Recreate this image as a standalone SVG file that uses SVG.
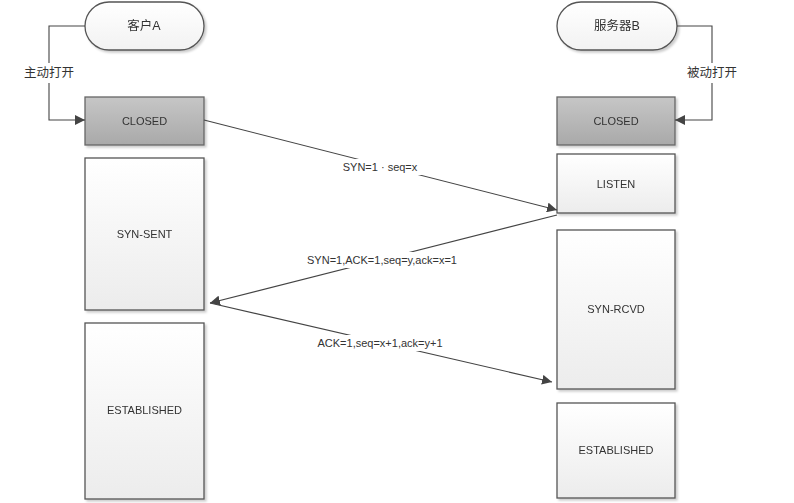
<svg xmlns="http://www.w3.org/2000/svg" width="794" height="503" viewBox="0 0 794 503">
<style>
text{font-family:"Liberation Sans","Noto Sans CJK SC",sans-serif;font-size:11px;fill:#333;text-anchor:middle;dominant-baseline:central}
text.cn{font-size:12.5px}
.box{fill:url(#gw);stroke:#555;stroke-width:1.3}
.gray{fill:url(#gg);stroke:#666;stroke-width:1.3}
.pill{fill:url(#gp);stroke:#555;stroke-width:1.3}
.ln{fill:none;stroke:#444;stroke-width:1.1}
.lbl{fill:#fff}
</style>
<defs>
<linearGradient id="gw" x1="0" y1="0" x2="0" y2="1"><stop offset="0" stop-color="#ffffff"/><stop offset="1" stop-color="#ececec"/></linearGradient>
<linearGradient id="gg" x1="0" y1="0" x2="0" y2="1"><stop offset="0" stop-color="#c6c6c6"/><stop offset="1" stop-color="#a9a9a9"/></linearGradient>
<linearGradient id="gp" x1="0" y1="0" x2="0" y2="1"><stop offset="0" stop-color="#ffffff"/><stop offset="1" stop-color="#f2f2f2"/></linearGradient>
<marker id="ar" viewBox="0 0 10 10" refX="10" refY="5" markerWidth="10" markerHeight="10" markerUnits="userSpaceOnUse" orient="auto"><path d="M0,0 L10,5 L0,10 z" fill="#444"/></marker>
<filter id="sh" x="-10%" y="-10%" width="130%" height="130%"><feDropShadow dx="2" dy="2" stdDeviation="1.2" flood-color="#000" flood-opacity="0.2"/></filter>
</defs>
<g id="clientA" filter="url(#sh)"><rect class="pill" x="85" y="2" width="119" height="48" rx="24"/><text class="cn" x="144" y="26">客户A</text></g>
<g id="serverB" filter="url(#sh)"><rect class="pill" x="557" y="2" width="120" height="48" rx="24"/><text class="cn" x="617" y="26">服务器B</text></g>
<g id="a-closed" filter="url(#sh)"><rect class="gray" x="85" y="97" width="119" height="48"/><text x="144.5" y="121">CLOSED</text></g>
<g id="a-synsent" filter="url(#sh)"><rect class="box" x="85" y="158" width="119" height="152"/><text x="144.5" y="234">SYN-SENT</text></g>
<g id="a-established" filter="url(#sh)"><rect class="box" x="85" y="323" width="119" height="176"/><text x="144.5" y="410">ESTABLISHED</text></g>
<g id="b-closed" filter="url(#sh)"><rect class="gray" x="557" y="97" width="118" height="48"/><text x="616" y="121">CLOSED</text></g>
<g id="b-listen" filter="url(#sh)"><rect class="box" x="557" y="154" width="118" height="59"/><text x="616" y="184">LISTEN</text></g>
<g id="b-synrcvd" filter="url(#sh)"><rect class="box" x="557" y="230" width="118" height="159"/><text x="616" y="309">SYN-RCVD</text></g>
<g id="b-established" filter="url(#sh)"><rect class="box" x="557" y="403" width="118" height="95"/><text x="616" y="450">ESTABLISHED</text></g>
<g id="connectors">
<path class="ln" d="M85,26 H49 V120 H85" marker-end="url(#ar)"/>
<rect class="lbl" x="20" y="63" width="58" height="20"/>
<text class="cn" x="49" y="73">主动打开</text>
<path class="ln" d="M677,26 H712 V120 H675" marker-end="url(#ar)"/>
<rect class="lbl" x="682" y="63" width="60" height="20"/>
<text class="cn" x="712" y="73">被动打开</text>
<path class="ln" d="M204,120 L557,210" marker-end="url(#ar)"/>
<rect class="lbl" x="338" y="159" width="84" height="16"/>
<text x="380" y="167">SYN=1 · seq=x</text>
<path class="ln" d="M557,215 L210,303" marker-end="url(#ar)"/>
<rect class="lbl" x="304" y="252" width="156" height="16"/>
<text x="382" y="260">SYN=1,ACK=1,seq=y,ack=x=1</text>
<path class="ln" d="M210,303 L552,382" marker-end="url(#ar)"/>
<rect class="lbl" x="313" y="335" width="134" height="16"/>
<text x="380" y="343">ACK=1,seq=x+1,ack=y+1</text>
</g>
</svg>
